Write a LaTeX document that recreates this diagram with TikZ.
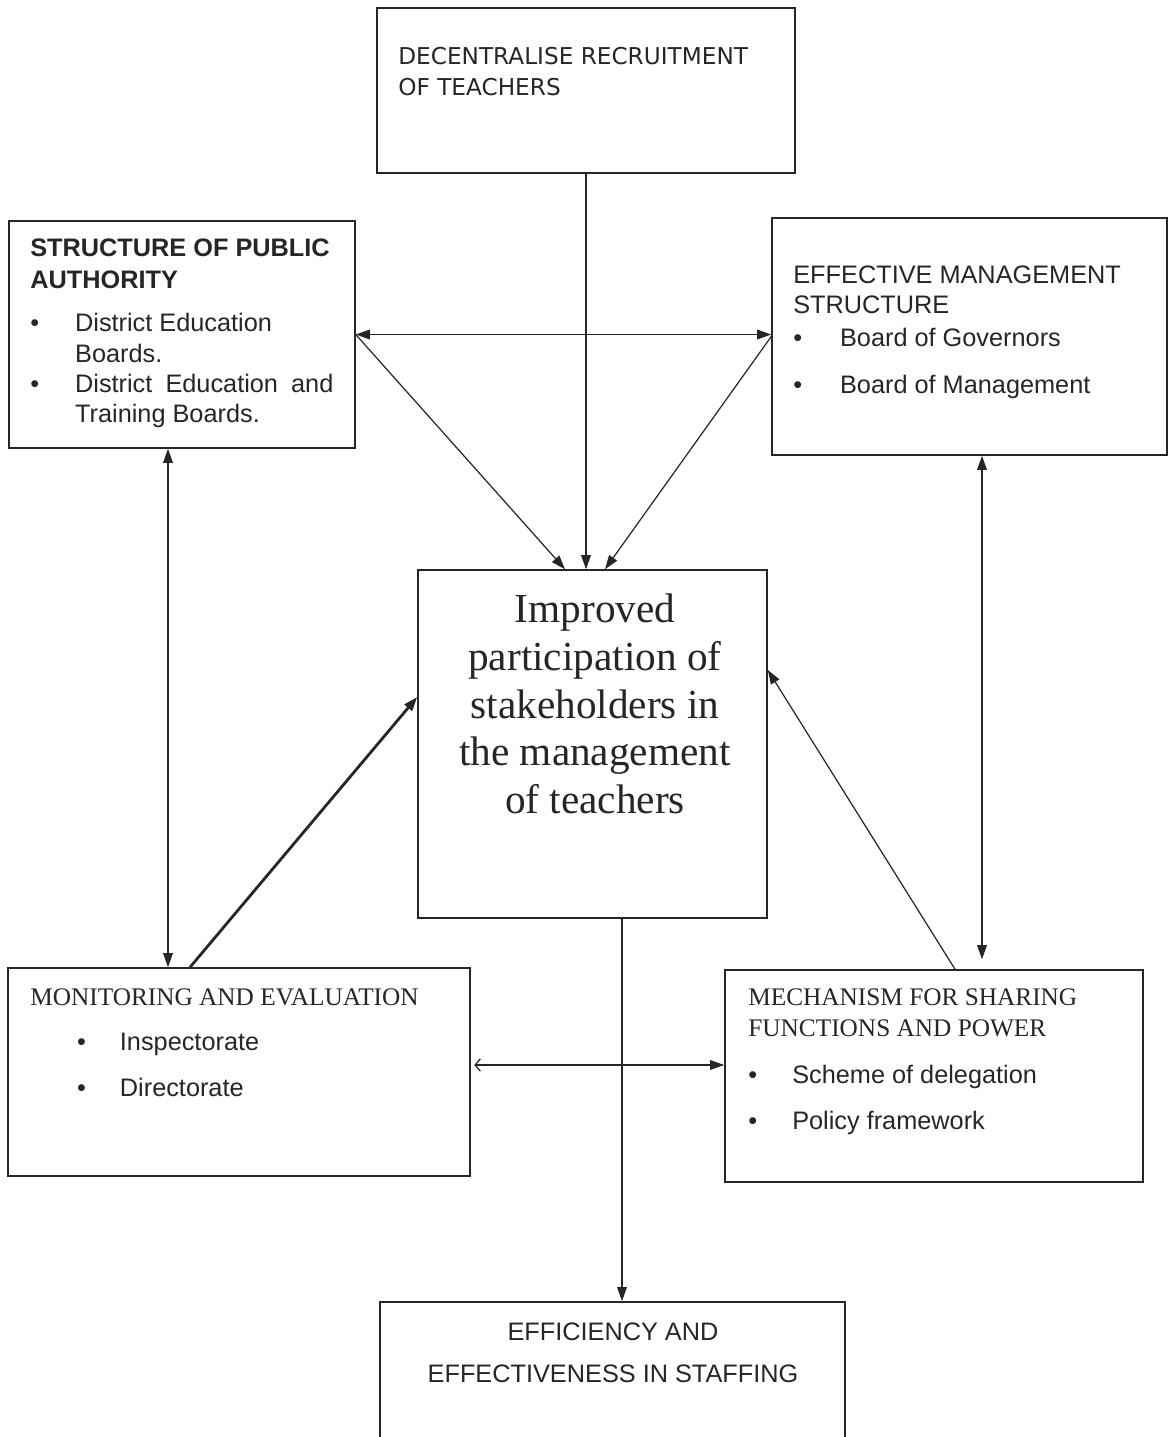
\documentclass[tikz,border=0pt]{standalone}
\usepackage{fontspec}
\setmainfont{Liberation Serif}
\newfontfamily\arialf{Liberation Sans}
\newfontfamily\verdf{DejaVu Sans}
\usetikzlibrary{arrows.meta}
\tikzset{
  box/.style={draw, line width=0.9pt, inner sep=0pt},
  txt/.style={align=left, inner sep=0pt, anchor=north west},
  link/.style={line width=0.7pt, -{Triangle[length=8pt,width=5.5pt]}},
  both/.style={line width=0.7pt, {Triangle[length=8pt,width=5.5pt]}-{Triangle[length=8pt,width=5.5pt]}},
}
\newcommand{\bul}[1]{\makebox[#1][l]{\textbullet}}
\begin{document}
\begin{tikzpicture}[x=0.02cm, y=-0.02cm, color=black!85]
\useasboundingbox (0,0) rectangle (1176,1437);
% boxes
\node[box, minimum width=8.36cm, minimum height=3.30cm] (dec) at (586,90.5) {};
\node[box, minimum width=6.92cm, minimum height=4.54cm] (spa) at (182,334.5) {};
\node[box, minimum width=7.90cm, minimum height=4.74cm] (ems) at (969.5,336.5) {};
\node[box, minimum width=6.98cm, minimum height=6.96cm] (imp) at (592.5,744) {};
\node[box, minimum width=9.24cm, minimum height=4.16cm] (mon) at (239,1072) {};
\node[box, minimum width=8.36cm, minimum height=4.24cm] (mech) at (934,1076) {};
\node[box, minimum width=9.30cm, minimum height=3.20cm] (eff) at (612.5,1382) {};
% texts
\node[txt, font=\verdf\fontsize{13.2}{18.1}\selectfont] (dectxt) at (398,46.5)
  {DECENTRALISE RECRUITMENT\\OF TEACHERS};
\node[txt, font=\arialf\fontsize{14.4}{17.3}\selectfont] (spatxt) at (30,238)
  {\textbf{STRUCTURE OF PUBLIC}\\[1.4pt]
   \textbf{AUTHORITY}\\[7.1pt]
   \bul{25.5pt}District Education\\
   \hspace*{25.5pt}Boards.\\
   \bul{25.5pt}\makebox[147pt][s]{District Education and}\\
   \hspace*{25.5pt}Training Boards.};
\node[txt, font=\arialf\fontsize{14.4}{17.6}\selectfont] (emstxt) at (793,265)
  {EFFECTIVE MANAGEMENT\\STRUCTURE\\[1.1pt]
   \bul{26.6pt}Board of Governors\\[9pt]
   \bul{26.6pt}Board of Management};
\node[align=center, inner sep=0pt, font=\fontsize{23.5}{27.2}\selectfont] (imptxt) at (595,704)
  {Improved\\participation of\\stakeholders in\\the management\\of teachers};
\node[txt, font=\fontsize{14.4}{17.6}\selectfont] (montxt) at (30,988.6)
  {MONITORING AND EVALUATION\\[7.9pt]
   \hspace*{26.6pt}{\arialf\bul{24.4pt}Inspectorate}\\[8.5pt]
   \hspace*{26.6pt}{\arialf\bul{24.4pt}Directorate}};
\node[txt, font=\fontsize{14.4}{17.6}\selectfont] (mechtxt) at (748,988.6)
  {MECHANISM FOR SHARING\\FUNCTIONS AND POWER\\[9pt]
   {\arialf\bul{25pt}Scheme of delegation}\\[8.5pt]
   {\arialf\bul{25pt}Policy framework}};
\node[align=center, inner sep=0pt, anchor=north, font=\arialf\fontsize{14.4}{24.4}\selectfont] (efftxt) at (613,1322)
  {EFFICIENCY AND\\EFFECTIVENESS IN STAFFING};
% connectors
\draw[link] (dec.south) -- (dec.south |- imp.north);
\draw[both] (spa.east) -- (spa.east -| ems.west);
\draw[link] (spa.east) -- ([xshift=-0.55cm]imp.north);
\draw[link] (ems.west) -- ([xshift=0.25cm]imp.north);
\draw[both] ([xshift=-0.28cm]spa.south) -- ([xshift=-0.28cm]spa.south |- mon.north);
\draw[link, line width=1.6pt] ([xshift=-0.98cm]mon.north) -- ([yshift=0.94cm]imp.west);
\draw[both, shorten >=0.2cm] ([xshift=0.25cm]ems.south) -- ([xshift=0.25cm]ems.south |- mech.north);
\draw[link] ([xshift=0.42cm]mech.north) -- ([yshift=1.48cm]imp.east);
\draw[line width=0.7pt, {Straight Barb[length=3pt,width=7pt]}-{Triangle[length=8pt,width=5.5pt]}, shorten <=2pt]
  ([yshift=0.14cm]mon.east) -- ([yshift=0.14cm]mon.east -| mech.west);
\draw[link] ([xshift=0.59cm]imp.south) -- ([xshift=0.59cm]imp.south |- eff.north);
\end{tikzpicture}
\end{document}
